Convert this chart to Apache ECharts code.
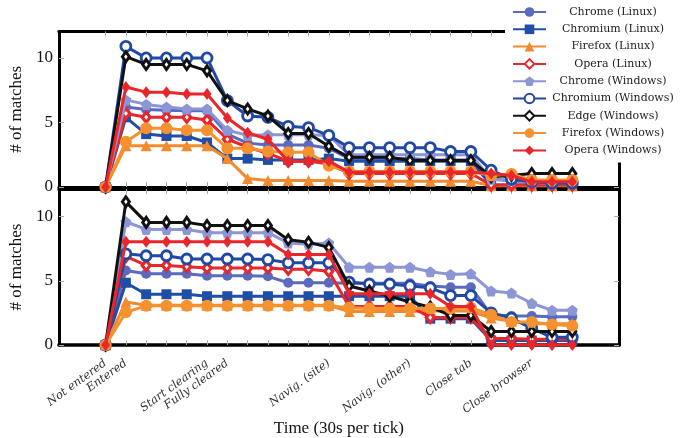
<!DOCTYPE html>
<html>
<head>
<meta charset="utf-8">
<script src="https://cdn.jsdelivr.net/npm/echarts@6/dist/echarts.min.js"></script>
<style>
html,body{margin:0;padding:0;background:#fff;}
#chart{width:685px;height:438px;}
</style>
</head>
<body>
<div id="chart"></div>
<script>
// ---- data ----
const steps = [0,1,2,3,4,5,6,7,8,9,10,11,12,13,14,15,16,17,18,19,20,21,22,23];
const eventTicks = [0,1,5,6,11,15,18,21];
const eventNames = ['Not entered','Entered','Start clearing','Fully cleared','Navig. (site)','Navig. (other)','Close tab','Close browser'];
const yTicks = [0,5,10];
const seriesNames = ['Chrome (Linux)','Chromium (Linux)','Firefox (Linux)','Opera (Linux)','Chrome (Windows)','Chromium (Windows)','Edge (Windows)','Firefox (Windows)','Opera (Windows)'];

// top panel
const topChromeL   = [0,6.2,6.0,5.95,5.9,5.9,4.1,3.4,3.25,3.25,3.25,3.0,2.2,2.2,2.2,2.2,2.1,2.1,2.1,0.6,0.5,0.3,0.3,0.3];
const topChromiumL = [0,5.4,4.1,3.95,3.95,3.45,2.2,2.2,2.1,2.1,2.1,2.2,2.0,2.0,2.0,2.0,2.0,2.0,2.0,0.15,0.15,0.15,0.15,0.15];
const topFirefoxL  = [0,3.2,3.2,3.2,3.2,3.2,2.2,0.65,0.5,0.5,0.5,0.5,0.45,0.45,0.45,0.45,0.45,0.45,0.45,0.1,0.1,0.1,0.1,0.1];
const topOperaL    = [0,5.7,5.4,5.4,5.4,5.2,3.7,3.1,2.6,2.0,2.0,1.8,1.05,1.05,1.05,1.05,1.05,1.05,1.05,0.15,0.15,0.15,0.15,0.15];
const topChromeW   = [0,6.75,6.4,6.2,6.05,6.05,4.4,4.0,4.05,4.05,4.05,4.0,2.5,2.5,2.5,2.5,2.5,2.5,2.5,0.6,0.5,0.35,0.3,0.3];
const topChromiumW = [0,10.9,10,10,10,10,6.7,5.5,5.4,4.7,4.6,4.0,3.05,3.05,3.05,3.05,3.05,2.75,2.75,1.3,0.6,0.4,0.3,0.3];
const topEdgeW     = [0,10.1,9.5,9.5,9.5,9.0,6.7,6.05,5.5,4.15,4.15,3.15,2.3,2.3,2.3,2.05,2.05,2.05,2.05,0.8,0.9,1.05,1.05,1.05];
const topFirefoxW  = [0,3.5,4.55,4.55,4.4,4.4,3.0,3.0,2.75,2.7,2.7,1.65,1.2,1.2,1.2,1.2,1.2,1.2,1.2,0.9,1.0,0.55,0.55,0.55];
const topOperaW    = [0,7.75,7.35,7.35,7.2,7.2,5.35,4.2,3.7,2.0,2.0,2.0,1.15,1.15,1.15,1.15,1.15,1.15,1.15,1.05,0.9,0.4,0.4,0.4];

// bottom panel
const botChromeL   = [0,5.8,5.55,5.55,5.55,5.4,5.4,5.4,5.35,4.85,4.85,4.85,4.8,4.8,4.8,4.8,4.6,4.5,4.5,2.35,2.25,2.25,2.2,2.2];
const botChromiumL = [0,4.85,3.95,3.95,3.95,3.8,3.8,3.8,3.8,3.8,3.8,3.8,3.8,3.8,3.8,3.8,2.05,2.05,2.05,0.35,0.35,0.35,0.35,0.35];
const botFirefoxL  = [0,3.35,3.1,3.1,3.1,3.1,3.1,3.1,3.1,3.1,3.1,3.1,2.6,2.6,2.6,2.6,2.65,2.65,2.65,2.1,1.85,1.65,1.65,1.65];
const botOperaL    = [0,6.9,6.2,6.2,6.1,6.0,6.0,6.0,6.0,5.9,5.9,5.75,3.0,3.0,3.0,3.0,2.15,2.15,2.15,0.5,0.5,0.45,0.45,0.45];
const botChromeW   = [0,9.6,9.0,9.0,9.0,8.75,8.75,8.75,8.75,7.95,7.85,7.95,6.05,6.05,6.05,6.05,5.7,5.5,5.55,4.2,4.05,3.25,2.7,2.7];
const botChromiumW = [0,7.1,6.95,6.95,6.7,6.7,6.7,6.7,6.65,6.4,6.4,6.4,4.9,4.75,4.75,4.6,4.45,3.85,3.85,2.5,2.1,1.3,0.6,0.6];
const botEdgeW     = [0,11.15,9.55,9.55,9.55,9.3,9.3,9.3,9.3,8.2,8.0,7.6,4.6,4.2,3.8,3.35,2.95,2.3,2.3,1.05,1.05,1.05,1.05,1.05];
const botFirefoxW  = [0,2.55,3.05,3.05,3.05,3.05,3.05,3.05,3.05,3.05,3.05,3.05,2.9,2.85,2.85,2.85,2.85,2.85,2.9,2.35,1.8,1.8,1.6,1.5];
const botOperaW    = [0,8.05,8.05,8.05,8.05,8.05,8.05,8.05,8.05,7.05,7.05,7.05,4.0,4.0,4.0,4.0,4.0,3.0,3.0,0,0,0,0,0];

const topData = [topChromeL,topChromiumL,topFirefoxL,topOperaL,topChromeW,topChromiumW,topEdgeW,topFirefoxW,topOperaW];
const botData = [botChromeL,botChromiumL,botFirefoxL,botOperaL,botChromeW,botChromiumW,botEdgeW,botFirefoxW,botOperaW];

// ---- styles ----
const pentagon = 'path://M0,-10 L9.51,-3.09 L5.88,8.09 L-5.88,8.09 L-9.51,-3.09 Z';
const thinDiamond = 'path://M0,-10 L6.5,0 L0,10 L-6.5,0 Z';
const styles = [
  {color:'#5a6bbf', symbol:'circle', size:10, fill:'#5a6bbf', bw:0},
  {color:'#1f4ea6', symbol:'rect', size:10, fill:'#1f4ea6', bw:0},
  {color:'#f28a2e', symbol:'triangle', size:11, fill:'#f28a2e', bw:0},
  {color:'#e8262b', symbol:'diamond', size:[8,10], fill:'#ffffff', bw:3.2},
  {color:'#8c95d6', symbol:pentagon, size:11, fill:'#8c95d6', bw:0},
  {color:'#2149a3', symbol:'circle', size:10, fill:'#ffffff', bw:2.8},
  {color:'#111111', symbol:thinDiamond, size:[7,10], fill:'#ffffff', bw:3},
  {color:'#f5922f', symbol:'circle', size:12, fill:'#f5922f', bw:0},
  {color:'#e8262b', symbol:thinDiamond, size:[9,12], fill:'#e8262b', bw:0}
];

const serif = 'Liberation Serif';
const series = [];
[topData, botData].forEach((panel, p) => {
  panel.forEach((vals, k) => {
    const s = styles[k];
    series.push({
      name: seriesNames[k],
      type: 'line',
      xAxisIndex: p === 0 ? 2 : 0,
      yAxisIndex: p === 0 ? 2 : 0,
      data: steps.map((x, i) => [x, vals[i]]),
      symbol: s.symbol,
      symbolSize: s.size,
      showAllSymbol: true,
      lineStyle: {color: s.color, width: 3},
      itemStyle: {color: s.fill, borderColor: s.color, borderWidth: s.bw},
      emphasis: {disabled: true},
      animation: false,
      z: 2 + k * 0.01
    });
  });
});

function xAx(grid, pos, withLabels) {
  const a = {
    type: 'value', gridIndex: grid, position: pos, min: -2.3, max: 25.3,
    axisLine: {onZero: false, lineStyle: {color: '#000', width: pos === 'bottom' && grid === 1 ? 3.5 : 3}},
    axisTick: {inside: true, length: 5, customValues: steps, lineStyle: {color: '#aaaaaa', width: 1}},
    splitLine: {show: false},
    axisLabel: {show: false}
  };
  if (withLabels) {
    a.axisLabel = {
      show: true, customValues: eventTicks,
      formatter: v => eventNames[eventTicks.indexOf(v)],
      rotate: 36, margin: 17, fontFamily: 'DejaVu Serif', fontStyle: 'italic',
      fontSize: 11.5, color: '#333'
    };
    a.name = 'Time (30s per tick)';
    a.nameLocation = 'middle';
    a.nameGap = 75;
    a.nameTextStyle = {fontFamily: serif, fontSize: 17, color: '#111'};
  }
  return a;
}
function yAx(grid, pos, withLabels) {
  const a = {
    type: 'value', gridIndex: grid, position: pos, min: 0, max: grid === 0 ? 12.05 : 12.15,
    axisLine: {show: true, onZero: false, lineStyle: {color: '#000', width: 3}},
    axisTick: {show: true, inside: true, length: 5, customValues: yTicks, lineStyle: {color: '#aaaaaa', width: 1}},
    splitLine: {show: false},
    axisLabel: {show: false}
  };
  if (withLabels) {
    a.axisLabel = {show: true, customValues: yTicks, margin: 6, fontFamily: serif, fontSize: 17, color: '#111'};
    a.name = '# of matches';
    a.nameLocation = 'middle';
    a.nameGap = 22;
    a.nameTextStyle = {fontFamily: serif, fontSize: 17, color: '#111'};
  }
  return a;
}

const chart = echarts.init(document.getElementById('chart'), null, {renderer: 'canvas'});
chart.setOption({
  animation: false,
  backgroundColor: '#fff',
  grid: [
    {left: 55, width: 564, top: 31.5, height: 155.5},
    {left: 55, width: 564, top: 189, height: 157.3}
  ],
  xAxis: [xAx(1, 'bottom', true), xAx(1, 'top', false), xAx(0, 'bottom', false), xAx(0, 'top', false)],
  yAxis: [yAx(1, 'left', true), yAx(1, 'right', false), yAx(0, 'left', true), yAx(0, 'right', false)],
  legend: {
    data: seriesNames,
    orient: 'vertical',
    left: 505, top: 0,
    padding: [6, 6, 6, 7],
    itemWidth: 33, itemHeight: 12, itemGap: 5.3,
    backgroundColor: '#ffffff',
    selectedMode: false,
    formatter: n => '{t|' + n + '}',
    textStyle: {
      fontFamily: 'DejaVu Serif', fontSize: 11, color: '#222', lineHeight: 12,
      rich: {t: {width: 124, align: 'center', fontFamily: 'DejaVu Serif', fontSize: 11, color: '#222', lineHeight: 12}}
    },
    z: 10
  },
  series: series
});
</script>
</body>
</html>
